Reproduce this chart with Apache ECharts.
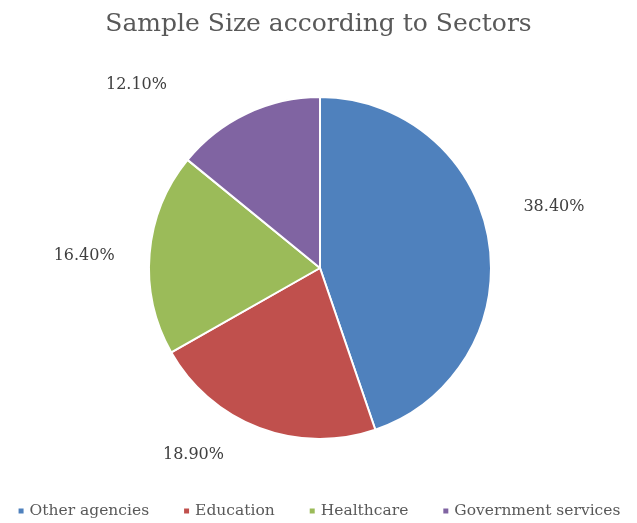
<!DOCTYPE html>
<html>
<head>
<meta charset="utf-8">
<script src="https://cdn.jsdelivr.net/npm/echarts@6/dist/echarts.min.js"></script>
<style>
  html, body { margin: 0; padding: 0; background: #fff; }
  #main { width: 637px; height: 523px; }
</style>
</head>
<body>
<div id="main"></div>
<script>
var sectors = ['Other agencies', 'Education', 'Healthcare', 'Government services'];
var shares = [38.4, 18.9, 16.4, 12.1];
var colors = ['#4F81BD', '#C0504D', '#9BBB59', '#8064A2'];

var chart = echarts.init(document.getElementById('main'));
var font = 'DejaVu Serif';
// nudges so the labels sit where Excel's "best fit" put them
var labelNudge = [[0, -30], [-12, 10], [0, 4], [-55, -12]];
var option = {
  animation: false,
  title: {
    text: 'Sample Size according to Sectors',
    left: 'center',
    top: 7,
    textStyle: { fontFamily: font, fontSize: 25, fontWeight: 'normal', color: '#595959' }
  },
  legend: {
    bottom: -1,
    left: 'center',
    itemWidth: 7,
    itemHeight: 7,
    itemGap: 33,
    icon: 'rect',
    textStyle: { fontFamily: font, fontSize: 15.5, color: '#595959' },
    data: sectors
  },
  series: [{
    type: 'pie',
    center: [320, 268],
    radius: [0, 171],
    startAngle: 90,
    clockwise: true,
    itemStyle: { borderColor: '#fff', borderWidth: 2 },
    label: {
      position: 'outside',
      fontFamily: font,
      fontSize: 16,
      color: '#404040',
      formatter: function (p) { return p.value.toFixed(2) + '%'; }
    },
    labelLine: { show: false, length: 18, length2: 12 },
    labelLayout: function (p) {
      return { dx: labelNudge[p.dataIndex][0], dy: labelNudge[p.dataIndex][1] };
    },
    data: sectors.map(function (s, i) {
      return { name: s, value: shares[i], itemStyle: { color: colors[i] } };
    })
  }]
};
chart.setOption(option);
</script>
</body>
</html>
